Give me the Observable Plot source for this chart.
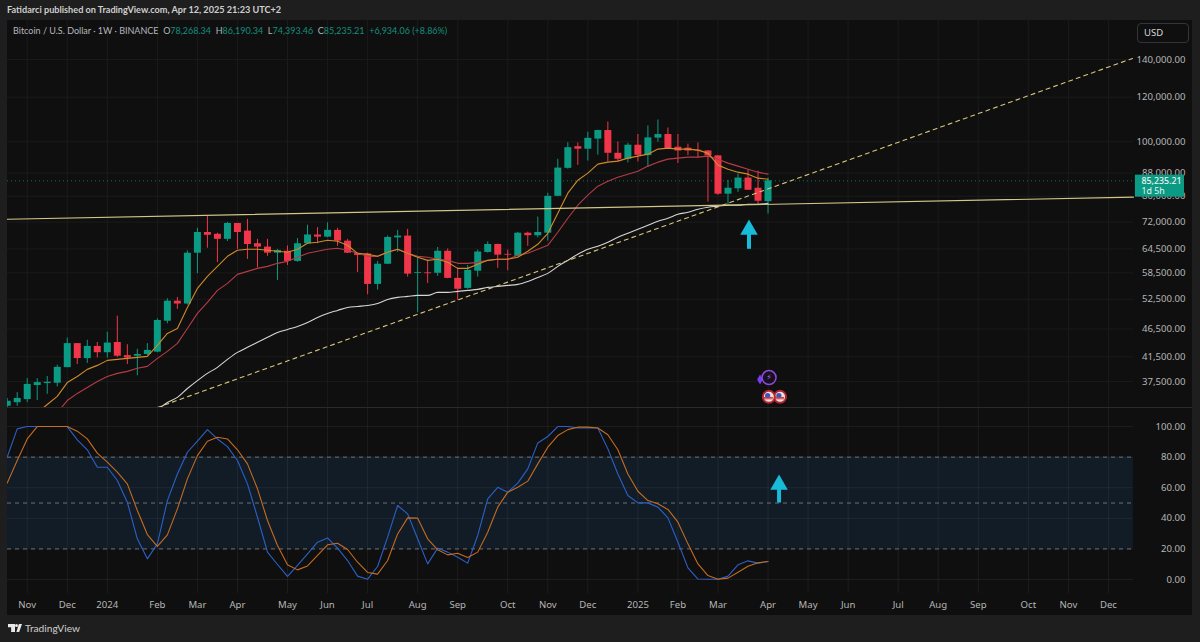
<!DOCTYPE html>
<html><head><meta charset="utf-8">
<script src="https://cdn.jsdelivr.net/npm/d3@7"></script>
<script src="https://cdn.jsdelivr.net/npm/@observablehq/plot@0.6"></script>
<style>
html,body{margin:0;padding:0;background:#1e1e1e;overflow:hidden}
body{position:relative;width:1200px;height:642px;font-family:"Noto Sans",sans-serif;color:#c8c8c8}
#head{position:absolute;left:7px;top:3px;font-family:Lato,sans-serif;font-size:9.15px;line-height:14px;font-weight:700;color:#cfcfcf;white-space:nowrap}
#panel{position:absolute;left:7px;top:20px;width:1185px;height:595px;background:#0f0f0f}
#panel svg{display:block}
#sep{height:1px;background:#2a2a2a}
#legend{position:absolute;left:13px;top:24px;font-family:Lato,sans-serif;font-size:9px;line-height:14px;color:#b4b6bd;white-space:nowrap}
#legend b{font-weight:400;color:#12907c}
#usd{position:absolute;left:1137px;top:23px;width:52px;height:20px;box-sizing:border-box;border:1px solid #33353a;border-radius:4px;font-size:9.5px;line-height:18px;padding-left:6px;color:#d8d8d8}
#foot{position:absolute;left:25px;top:621px;font-family:Lato,sans-serif;font-size:10.2px;line-height:14px;color:#cfcfcf}
.lg{position:absolute;background:#e8e8e8}
</style></head><body>
<div id="head"></div>
<div id="panel"><div id="topPane"></div><div id="sep"></div><div id="botPane"></div></div>
<div id="legend"></div>
<div id="usd">USD</div>
<div class="lg" style="left:8px;top:624px;width:7px;height:8px;clip-path:polygon(0 0,100% 0,100% 100%,45% 100%,45% 40%,0 40%)"></div>
<div class="lg" style="left:15px;top:624px;width:3px;height:3px;border-radius:50%"></div>
<div class="lg" style="left:15px;top:624px;width:7px;height:8px;clip-path:polygon(55% 0,100% 0,60% 100%,20% 100%)"></div>
<div id="foot">TradingView</div>
<script>
const headerText = "Fatidarci published on TradingView.com, Apr 12, 2025 21:23 UTC+2";
const symbolText = "Bitcoin / U.S. Dollar · 1W · BINANCE";
const ohlcLabels = ["O78,268.34","H86,190.34","L74,393.46","C85,235.21"];
const changeText = "+6,934.06 (+8.86%)";

// weekly bars; the first bar is the week of 2023-10-23
const opens  = [33900,34400,34840,36900,37200,37250,39700,43800,41200,43300,42200,44000,41700,41600,41900,42300,48000,52100,51500,63400,69000,68500,67100,71600,69400,65900,65000,63400,63900,61300,65900,68300,67700,69600,66600,63300,63200,55800,60600,67500,68000,58400,58500,58400,63900,57200,54900,58900,63600,65700,63100,62600,68800,68100,68800,80000,89700,98000,97000,101100,104700,95400,93100,98600,94500,101500,103000,97800,97400,96600,96300,94400,80700,82500,86200,82700,78268.34];
const highs  = [35000,35850,37960,37950,38300,40100,44800,43800,44400,44000,45900,49000,43600,42800,43800,48500,52600,52900,64000,70200,73700,68800,71900,71600,72800,67100,67100,64400,65300,67300,71100,70400,71800,70200,67100,63400,63400,61300,68000,69600,69900,62300,61600,64900,64500,59600,60300,64200,66400,65800,64200,69000,69100,73500,81000,93100,99600,99500,104000,104900,108400,99900,99400,103000,106700,109300,105800,103000,99000,99500,96500,94500,85400,87700,89000,88700,86190.34];
const lows   = [33500,33900,34410,34700,35600,36700,39700,40200,40400,41300,41300,41400,40200,38400,41700,42200,47500,50400,51300,58300,64700,61000,66500,64400,61800,59700,62600,56700,60300,61100,65900,65900,67500,65200,63300,58600,53500,54500,60500,63600,57500,49700,56000,57700,57100,52300,54700,57500,63400,59600,59000,62400,65200,67500,66600,79900,89400,90800,92400,94700,92000,92000,91700,92100,90100,99800,97300,91500,94500,93500,78100,80300,77100,81300,82000,77100,74393.46];
const closes = [34600,35000,37070,37350,37400,39750,43800,41200,43300,42200,43900,41600,41300,41900,42600,48150,52100,51500,63400,69000,68200,67100,71600,69000,65700,65000,63400,64100,61300,65900,68300,67700,69600,66600,63400,62800,55800,60600,67600,68000,58200,58600,58300,63900,57200,54700,59100,63700,65700,62900,62900,68800,68100,69000,80000,89800,97600,97000,101400,104700,95400,93100,98600,94600,101600,103000,97300,96300,96300,96300,94400,80700,82700,86200,82000,78400,85235.21];

const fastMA = [null,null,null,33030,34140,35290,37350,38300,39420,40070,40900,41060,41230,41400,41570,43490,45670,46600,50780,54900,57660,60070,62590,64150,64420,64420,64150,63890,63630,64420,66020,66290,66830,66560,65480,63370,63110,62590,63630,64420,63370,62340,61570,61830,61070,59580,59580,60570,61570,61830,61830,62340,63890,65750,68780,74640,81030,85460,87950,91260,92000,92380,93520,94290,95060,97040,97440,97040,97040,96630,95450,90890,89400,88310,87590,86170,85810];
const slowMA = [null,null,null,null,null,33030,34700,35730,36600,37500,38300,38780,39100,39590,39910,41230,42430,43850,46600,49560,51830,54450,56030,58140,58860,59580,60070,60820,61320,62340,63370,63890,64420,64690,64150,63370,62590,62590,63630,64420,63370,62590,62340,61830,61570,60820,60820,61070,61570,61830,61830,62850,63370,64420,65480,69060,73130,77140,80370,83390,85110,86520,87590,88670,90520,92000,93140,93520,93900,93900,94290,93140,91630,90520,89400,88310,87590];
const longMA = [null,null,null,null,null,null,null,null,null,null,null,null,null,null,null,33400,34420,35150,36450,37650,38780,39750,41060,42260,43140,44030,44940,45850,46410,46990,47760,48750,49560,50170,50780,50990,51200,51620,52480,52920,53130,53350,53350,54010,54010,54230,54450,54670,55120,55350,55570,55800,56490,57420,58380,60070,61570,63110,64420,65220,66290,67670,68780,69910,71070,72240,73130,74340,74950,75880,76510,76820,77140,77140,77460,77460,77780];

const stochK = [80,98.5,100,100,100,100,100,91.3,84.8,73.4,73.4,64.7,50.5,26.6,13.5,23.3,51.6,69,83.2,90.4,98,91.9,86.9,77.8,62.5,40.7,17.9,9.8,2,9.2,16.8,24.4,27.2,20.5,12.4,2.2,0.2,8.5,27.7,48.4,42.9,26.6,10.2,20.5,17.9,14.6,10.7,28.8,52.7,60.3,57.1,63,72.3,89.3,93.5,100,100,99.1,99.1,99.1,85.4,69,54.9,50.1,50.1,47.3,40.3,24.4,7.6,0.3,0.2,0.2,2.2,9.6,12.2,10.7,11.8];
const stochD = [63,77.8,91.9,100,100,100,100,97,91.9,82.6,76.7,70.2,62.5,45.1,29.4,21.6,29.2,46.2,65.8,81,90.4,93,91.9,84.8,75.6,59.3,38.6,22.2,9.6,6.3,8.9,15.7,22.7,23.7,19.6,11.3,4.6,3.5,12.4,29.8,40.3,40.1,26.6,19.4,16.1,17.2,14.4,17.9,30.9,47.3,57.1,60.3,64.3,75.6,86.5,94.1,98,99.6,99.6,99.1,94.6,84.8,69,57.7,51.6,49.5,45.8,37.5,23.3,10.2,2.6,0.2,0.9,4.8,8.7,10.9,11.8];

const priceTicks = [140000,120000,100000,88000,80000,72000,64500,58500,52500,46500,41500,37500];
const stochTicks = [100,80,60,40,20,0];
const stochLevels = [80,50,20];
const monthLabels = ["Nov","Dec","2024","Feb","Mar","Apr","May","Jun","Jul","Aug","Sep","Oct","Nov","Dec","2025","Feb","Mar","Apr","May","Jun","Jul","Aug","Sep","Oct","Nov","Dec"];
const monthDates = ["2023-11-06","2023-12-04","2024-01-01","2024-02-05","2024-03-04","2024-04-01","2024-05-06","2024-06-03","2024-07-01","2024-08-05","2024-09-02","2024-10-07","2024-11-04","2024-12-02","2025-01-06","2025-02-03","2025-03-03","2025-04-07","2025-05-05","2025-06-02","2025-07-07","2025-08-04","2025-09-01","2025-10-06","2025-11-03","2025-12-01"];
const lastPrice = 85235.21, lastPriceLabel = "85,235.21", countdown = "1d 5h";
const resistance = [72840,79710];   // solid line ends
const support = [33730,140600];     // dashed line ends
const priceDomain = [33730,164200], stochDomain = [-9.15,111.8];

document.getElementById("head").textContent = headerText;
document.getElementById("legend").innerHTML = symbolText + "&nbsp;&nbsp;" +
  ohlcLabels.map(s=>s[0]+"<b>"+s.slice(1)+"</b>").join("&nbsp;&nbsp;") + "&nbsp;&nbsp;<b>"+changeText+"</b>";

const WEEK = 7*864e5, T0 = Date.UTC(2023,10,6);
const at = k => new Date(T0 + k*WEEK);
const xDomain = [at(-1.97), at(116.4)];
const GRID_END = at(110.5), TAG_L = at(110.7), TAG_R = at(115.6), LABEL_L = at(111.3);
const bars = opens.map((o,i)=>({date:at(i-2),o,h:highs[i],l:lows[i],c:closes[i],up:closes[i]>=o,
  fast:fastMA[i],slow:slowMA[i],long:longMA[i],k:stochK[i],d:stochD[i]}));
const monthX = monthDates.map(d=>new Date(d+"T00:00:00Z"));
const GREEN="#0b9a83", RED="#f2364a", GRID="#1b1b1b", TICKTXT="#b6b6b6", CYAN="#16bcd8";
const FONT='"Noto Sans",sans-serif';
const fmt = d3.format(",.2f");
const col = d=>d.up?GREEN:RED;
const pt = {x:d=>d[0],y:d=>d[1]};

const topChart = Plot.plot({
  width:1185,height:387,margin:0,
  style:{background:"transparent",fontFamily:FONT},
  x:{type:"utc",domain:xDomain,axis:null},
  y:{type:"log",domain:priceDomain,axis:null},
  marks:[
    Plot.ruleX(monthX,{x:d=>d,stroke:GRID}),
    Plot.ruleY(priceTicks,{y:d=>d,x1:xDomain[0],x2:GRID_END,stroke:GRID}),
    Plot.ruleY([lastPrice],{y:d=>d,x1:xDomain[0],x2:TAG_L,stroke:"#17705f",strokeDasharray:"1,3"}),
    Plot.ruleX(bars,{x:"date",y1:"l",y2:"h",stroke:col,strokeWidth:1}),
    Plot.ruleX(bars,{x:"date",y1:"o",y2:"c",stroke:col,strokeWidth:7}),
    Plot.line(bars.filter(d=>d.long!=null),{x:"date",y:"long",stroke:"#d6d6d6",strokeWidth:1.1,curve:"monotone-x"}),
    Plot.line(bars.filter(d=>d.slow!=null),{x:"date",y:"slow",stroke:"#b43c48",strokeWidth:1.1}),
    Plot.line(bars.filter(d=>d.fast!=null),{x:"date",y:"fast",stroke:"#cf8a28",strokeWidth:1.1}),
    Plot.line([[xDomain[0],resistance[0]],[GRID_END,resistance[1]]],{...pt,stroke:"#d2c688",strokeWidth:1.2}),
    Plot.line([[at(13),support[0]],[at(110.4),support[1]]],{...pt,stroke:"#d8c67c",strokeWidth:1.1,strokeDasharray:"4,4"}),
    // annotation arrow
    Plot.ruleX([[at(72.1),64420,69000]],{x:d=>d[0],y1:d=>d[1],y2:d=>d[2],stroke:CYAN,strokeWidth:4}),
    Plot.dot([[at(72.1),69800]],{...pt,symbol:"triangle",r:6.5,fill:CYAN}),
    // event badges
    Plot.dot([[at(73.2),37830]],{...pt,symbol:"diamond",r:3,fill:"#7c3cf0"}),
    Plot.dot([[at(74.1),38120]],{...pt,r:7,fill:"#17101f",stroke:"#8f4ad8",strokeWidth:1.5}),
    Plot.text([[at(74.1),38120]],{...pt,text:()=>"⚡",fill:"#b06ae8",fontSize:8,fontFamily:"DejaVu Sans"}),
    Plot.dot([[at(75.2),35230],[at(74.08),35230]],{...pt,r:6,fill:"#ecdede",stroke:"#b3262e",strokeWidth:2}),
    Plot.dot([[at(75.08),35400],[at(73.96),35400]],{...pt,r:2.6,fill:"#3a55c0"}),
    Plot.ruleY([[35130,at(74.75),at(75.65)],[34950,at(74.75),at(75.65)],[35130,at(73.63),at(74.53)],[34950,at(73.63),at(74.53)]],{y:d=>d[0],x1:d=>d[1],x2:d=>d[2],stroke:"#c83a42",strokeWidth:1}),
    // price axis
    Plot.text(priceTicks,{y:d=>d,text:fmt,frameAnchor:"right",dx:-7,textAnchor:"end",fill:TICKTXT,fontSize:9.6}),
    Plot.rect([[TAG_L,TAG_R,79710,87230]],{x1:d=>d[0],x2:d=>d[1],y1:d=>d[2],y2:d=>d[3],fill:"#0b9a83"}),
    Plot.text([lastPriceLabel],{x:LABEL_L,y:lastPrice,text:d=>d,textAnchor:"start",fill:"#f2f2f2",fontSize:8.8,fontWeight:500}),
    Plot.text([countdown],{x:LABEL_L,y:lastPrice,dy:10.5,text:d=>d,textAnchor:"start",fill:"#e6f5f2",fontSize:8.8})
  ]
});
document.getElementById("topPane").appendChild(topChart);

const botChart = Plot.plot({
  width:1185,height:207,marginTop:0,marginLeft:0,marginRight:0,marginBottom:22,
  style:{background:"transparent",fontFamily:FONT},
  x:{type:"utc",domain:xDomain,axis:null},
  y:{domain:stochDomain,axis:null},
  marks:[
    Plot.rect([[xDomain[0],GRID_END,20,80]],{x1:d=>d[0],x2:d=>d[1],y1:d=>d[2],y2:d=>d[3],fill:"#121c26"}),
    Plot.ruleX(monthX,{x:d=>d,y1:stochDomain[0],y2:stochDomain[1],stroke:"#fff",strokeOpacity:.06}),
    Plot.ruleY(stochTicks,{y:d=>d,x1:xDomain[0],x2:GRID_END,stroke:"#fff",strokeOpacity:.06}),
    Plot.ruleY(stochLevels,{y:d=>d,x1:xDomain[0],x2:GRID_END,stroke:"#767b84",strokeWidth:.9,strokeDasharray:"4,4"}),
    Plot.line(bars,{x:"date",y:"k",stroke:"#2c60c8",strokeWidth:1.1}),
    Plot.line(bars,{x:"date",y:"d",stroke:"#c46c22",strokeWidth:1.1}),
    Plot.ruleX([[at(75.1),50,60.5]],{x:d=>d[0],y1:d=>d[1],y2:d=>d[2],stroke:CYAN,strokeWidth:4}),
    Plot.dot([[at(75.1),62]],{...pt,symbol:"triangle",r:6.5,fill:CYAN}),
    Plot.text(stochTicks,{y:d=>d,text:fmt,frameAnchor:"right",dx:-7,textAnchor:"end",fill:TICKTXT,fontSize:9.6}),
    Plot.text(monthX,{x:d=>d,text:(d,i)=>monthLabels[i],frameAnchor:"bottom",lineAnchor:"middle",dy:11,fill:TICKTXT,fontSize:9.6})
  ]
});
document.getElementById("botPane").appendChild(botChart);
</script>
</body></html>
